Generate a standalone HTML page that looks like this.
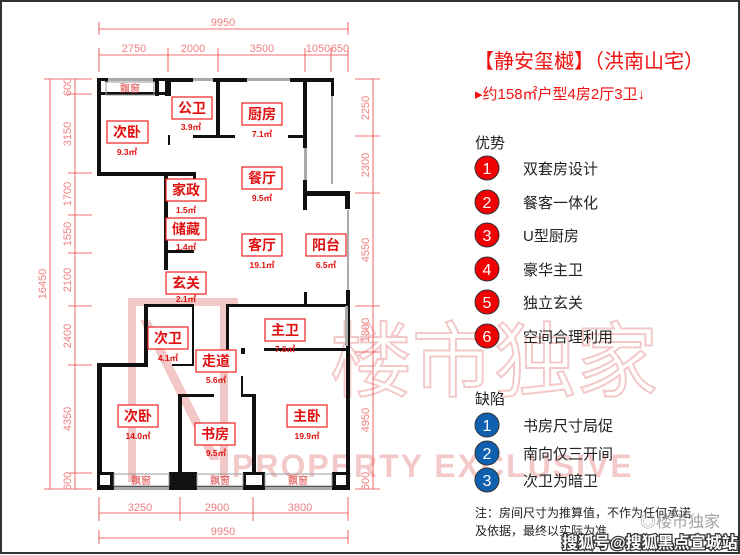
<!DOCTYPE html>
<html><head><meta charset="utf-8"><style>
html,body{margin:0;padding:0;background:#fff}
svg{display:block}
text{font-family:"Liberation Sans","Noto Sans CJK SC",sans-serif}
</style></head><body>
<svg width="740" height="555" viewBox="0 0 740 555" xmlns="http://www.w3.org/2000/svg">
<rect x="1" y="1" width="738" height="552" fill="#fff" stroke="#333" stroke-width="2"/>
<!-- watermark -->
<g opacity="0.24" fill="#d02020">
<path d="M128 298h110v8h-102v176h-8z"/><path d="M150 320l70 140h-10l-70-140z"/><path d="M220 298h8v180h-8z"/>
<text x="330" y="390" font-size="82" font-family="Noto Sans CJK SC,sans-serif" fill="none" stroke="#d02020" stroke-width="2">楼市独家</text>
<text x="232" y="477" font-size="32" font-weight="bold" letter-spacing="2">PROPERTY EXCLUSIVE</text>
</g>
<!-- dimensions -->
<g stroke="#f04040" stroke-width="0.8" fill="none">
<line x1="99" y1="29" x2="348" y2="29"/><line x1="99" y1="22" x2="99" y2="35"/><line x1="348" y1="22" x2="348" y2="35"/>
<line x1="99" y1="55" x2="348" y2="55"/>
<path d="M99 48v24M168 48v24M218 48v24M305 48v24M331 48v24M348 48v24"/>
<line x1="99" y1="513" x2="348" y2="513"/><path d="M99 497v24M180 497v24M253 497v24M348 497v24"/>
<line x1="99" y1="538" x2="348" y2="538"/><path d="M99 530v14M348 530v14"/>
<line x1="50" y1="79" x2="50" y2="489"/><path d="M44 79h48M44 489h48"/>
<line x1="75" y1="79" x2="75" y2="489"/><path d="M68 94h24M68 173h24M68 215h24M68 253h24M68 306h24M68 365h24M68 473h24"/>
<line x1="373" y1="79" x2="373" y2="489"/><path d="M355 79h25M355 136h25M355 193h25M355 306h25M355 352h25M355 489h25"/>
</g>
<g fill="#f08080" font-size="11" text-anchor="middle">
<text x="223" y="26">9950</text>
<text x="134" y="52">2750</text><text x="193" y="52">2000</text><text x="262" y="52">3500</text><text x="318" y="52">1050</text><text x="340" y="52">650</text>
<text x="140" y="511">3250</text><text x="217" y="511">2900</text><text x="300" y="511">3800</text>
<text x="223" y="535">9950</text>
<text transform="translate(46,284) rotate(-90)">16450</text>
<text transform="translate(71,87) rotate(-90)">600</text>
<text transform="translate(71,134) rotate(-90)">3150</text>
<text transform="translate(71,194) rotate(-90)">1700</text>
<text transform="translate(71,234) rotate(-90)">1550</text>
<text transform="translate(71,280) rotate(-90)">2100</text>
<text transform="translate(71,336) rotate(-90)">2400</text>
<text transform="translate(71,419) rotate(-90)">4350</text>
<text transform="translate(71,481) rotate(-90)">600</text>
<text transform="translate(369,108) rotate(-90)">2250</text>
<text transform="translate(369,165) rotate(-90)">2300</text>
<text transform="translate(369,250) rotate(-90)">4550</text>
<text transform="translate(369,330) rotate(-90)">1800</text>
<text transform="translate(369,420) rotate(-90)">4950</text>
<text transform="translate(369,481) rotate(-90)">600</text>
</g>
<!-- walls -->
<g fill="#111">
<rect x="97" y="78" width="11" height="4"/><rect x="153" y="78" width="40" height="4"/><rect x="213" y="78" width="34" height="4"/><rect x="290" y="78" width="43" height="4"/>
<rect x="97" y="78" width="4" height="97"/><rect x="97" y="172" width="98" height="4"/>
<rect x="155" y="78" width="4" height="18"/><rect x="165" y="78" width="4" height="18"/><rect x="97" y="92" width="72" height="3"/>
<rect x="168" y="78" width="3" height="18"/><rect x="168" y="135" width="2" height="10"/>
<rect x="216" y="78" width="4" height="60"/><rect x="193" y="135" width="42" height="3"/><rect x="288" y="135" width="18" height="3"/>
<rect x="303" y="78" width="4" height="70"/><rect x="303" y="180" width="4" height="30"/><rect x="331" y="78" width="3" height="18"/>
<rect x="305" y="191" width="45" height="5"/><rect x="345" y="191" width="5" height="18"/>
<rect x="346" y="290" width="4" height="200"/>
<rect x="164" y="176" width="4" height="94"/><rect x="193" y="172" width="3" height="10"/>
<rect x="166" y="250" width="28" height="3"/>
<rect x="144" y="304" width="50" height="3"/><rect x="144" y="304" width="4" height="62"/><rect x="97" y="363" width="51" height="4"/><rect x="97" y="363" width="5" height="127"/>
<rect x="192" y="304" width="2" height="60"/><rect x="172" y="364" width="22" height="2"/>
<rect x="226" y="304" width="124" height="3"/><rect x="226" y="304" width="3" height="46"/><rect x="264" y="348" width="82" height="3"/><rect x="241" y="348" width="4" height="6"/><rect x="304" y="292" width="3" height="14"/>
<rect x="178" y="394" width="4" height="96"/><rect x="178" y="394" width="36" height="3"/><rect x="241" y="376" width="2" height="20"/><rect x="241" y="394" width="15" height="3"/><rect x="252" y="394" width="4" height="82"/>
<rect x="97" y="486" width="253" height="4"/>
<rect x="97" y="472" width="17" height="18"/><rect x="169" y="472" width="28" height="18"/><rect x="243" y="472" width="22" height="18"/><rect x="332" y="472" width="18" height="18"/>
</g>
<g fill="#fff"><rect x="100" y="475" width="10" height="10"/><rect x="246" y="475" width="16" height="10"/><rect x="336" y="475" width="10" height="10"/><rect x="101" y="81" width="4" height="10"/><rect x="159" y="81" width="6" height="10"/></g>
<g fill="#aaa"><rect x="108" y="78" width="45" height="3"/><rect x="193" y="78" width="20" height="3"/><rect x="247" y="78" width="43" height="3"/><rect x="304" y="148" width="3" height="32"/><rect x="331" y="96" width="2" height="88"/><rect x="347" y="210" width="2" height="80"/><rect x="345" y="306" width="3" height="40"/><rect x="114" y="487" width="55" height="3"/><rect x="197" y="487" width="46" height="3"/><rect x="265" y="487" width="67" height="3"/></g>
<g stroke="#999" fill="none" stroke-width="1"><rect x="106" y="82" width="48" height="13"/><rect x="114" y="474" width="55" height="12"/><rect x="197" y="474" width="46" height="12"/><rect x="265" y="474" width="67" height="12"/></g>
<g fill="#e04040" font-size="10" text-anchor="middle"><text x="130" y="92">飘窗</text><text x="141" y="484">飘窗</text><text x="220" y="484">飘窗</text><text x="298" y="484">飘窗</text></g>
<!-- labels -->
<g font-family="Noto Sans CJK SC,sans-serif">
<g fill="#fff" stroke="#f02020" stroke-width="1.2">
<rect x="172" y="97" width="40" height="22"/><rect x="242" y="103" width="40" height="22"/><rect x="107" y="121" width="41" height="22"/><rect x="242" y="167" width="40" height="22"/><rect x="166" y="179" width="40" height="22"/><rect x="166" y="218" width="40" height="22"/><rect x="242" y="234" width="40" height="22"/><rect x="306" y="234" width="40" height="22"/><rect x="166" y="272" width="40" height="22"/><rect x="148" y="327" width="40" height="22"/><rect x="265" y="319" width="40" height="22"/><rect x="196" y="350" width="40" height="22"/><rect x="118" y="405" width="40" height="22"/><rect x="287" y="405" width="40" height="22"/><rect x="195" y="423" width="40" height="22"/>
</g>
<g fill="#e01010" font-size="14" font-weight="bold" text-anchor="middle">
<text x="192" y="113">公卫</text><text x="262" y="119">厨房</text><text x="127" y="137">次卧</text><text x="262" y="183">餐厅</text><text x="186" y="195">家政</text><text x="186" y="234">储藏</text><text x="262" y="250">客厅</text><text x="326" y="250">阳台</text><text x="186" y="288">玄关</text><text x="168" y="343">次卫</text><text x="285" y="335">主卫</text><text x="216" y="366">走道</text><text x="138" y="421">次卧</text><text x="307" y="421">主卧</text><text x="215" y="439">书房</text>
</g>
<g fill="#e01010" font-size="8.5" font-weight="bold" text-anchor="middle">
<text x="191" y="130">3.9㎡</text><text x="262" y="137">7.1㎡</text><text x="127" y="155">9.3㎡</text><text x="262" y="201">9.5㎡</text><text x="186" y="213">1.5㎡</text><text x="186" y="250">1.4㎡</text><text x="262" y="268">19.1㎡</text><text x="326" y="268">6.5㎡</text><text x="186" y="302">2.1㎡</text><text x="168" y="361">4.1㎡</text><text x="285" y="352">7.6㎡</text><text x="216" y="383">5.6㎡</text><text x="138" y="439">14.0㎡</text><text x="307" y="439">19.9㎡</text><text x="216" y="456">9.5㎡</text>
</g>
</g>
<!-- right panel -->
<g font-family="Noto Sans CJK SC,sans-serif">
<text x="474" y="68" fill="#f01010" font-size="20">【静安玺樾】（洪南山宅）</text>
<text x="475" y="99" fill="#f01010" font-size="15">▸约158㎡户型4房2厅3卫↓</text>
<text x="475" y="148" fill="#222" font-size="15">优势</text>
<g stroke="#333" stroke-width="1" fill="#f00000">
<circle cx="487" cy="168" r="12"/><circle cx="487" cy="202" r="12"/><circle cx="487" cy="235" r="12"/><circle cx="487" cy="269" r="12"/><circle cx="487" cy="302" r="12"/><circle cx="487" cy="336" r="12"/>
</g>
<g fill="#1060b0" stroke="#333" stroke-width="1"><circle cx="487" cy="425" r="12"/><circle cx="487" cy="453" r="12"/><circle cx="487" cy="480" r="12"/></g>
<g fill="#fff" font-size="16" text-anchor="middle" font-family="Liberation Sans,sans-serif">
<text x="487" y="174">1</text><text x="487" y="208">2</text><text x="487" y="241">3</text><text x="487" y="275">4</text><text x="487" y="308">5</text><text x="487" y="342">6</text>
<text x="487" y="431">1</text><text x="487" y="459">2</text><text x="487" y="486">3</text>
</g>
<g fill="#222" font-size="15">
<text x="523" y="174">双套房设计</text><text x="523" y="208">餐客一体化</text><text x="523" y="241">U型厨房</text><text x="523" y="275">豪华主卫</text><text x="523" y="308">独立玄关</text><text x="523" y="342">空间合理利用</text>
<text x="475" y="404">缺陷</text>
<text x="523" y="431">书房尺寸局促</text><text x="523" y="459">南向仅三开间</text><text x="523" y="486">次卫为暗卫</text>
</g>
<g fill="#222" font-size="12"><text x="475" y="517">注：房间尺寸为推算值，不作为任何承诺</text><text x="475" y="535">及依据，最终以实际为准</text></g>
<text x="640" y="527" fill="#999" font-size="16" opacity="0.9">◎楼市独家</text>
<text x="562" y="548" fill="#fff" stroke="#333" stroke-width="2.5" paint-order="stroke" font-size="16" font-weight="bold">搜狐号@搜狐黑点宣城站</text>
</g>
</svg>
</body></html>
